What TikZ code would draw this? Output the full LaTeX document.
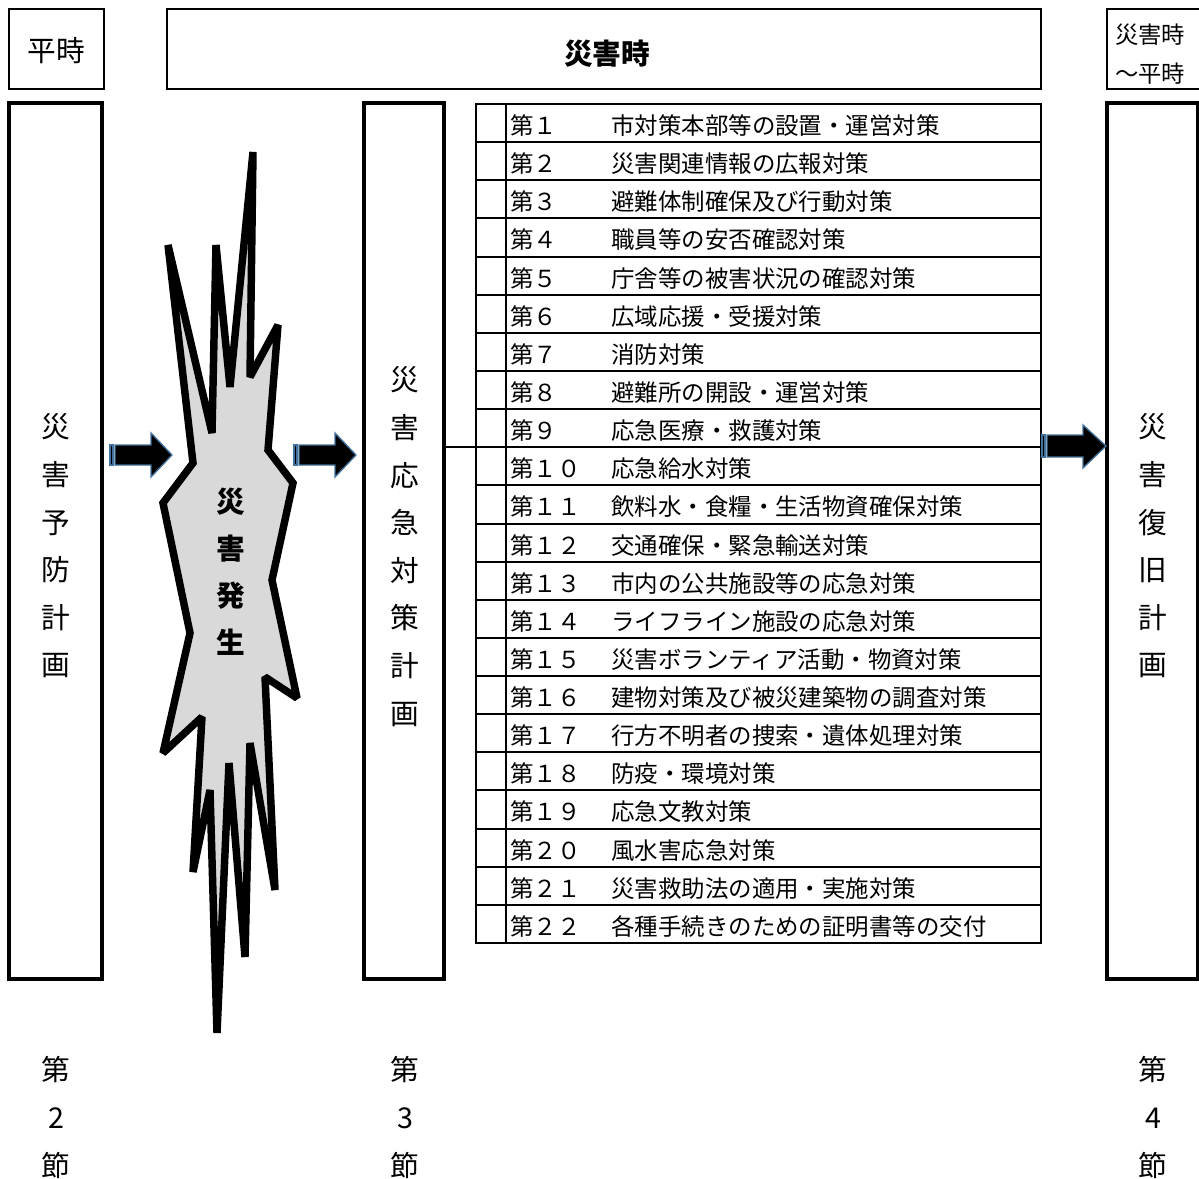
\documentclass[tikz,border=0pt]{standalone}
\usepackage{fontspec}
\setmainfont{Noto Sans CJK JP}
\definecolor{arrowblue}{HTML}{41719C}
\definecolor{boomgray}{HTML}{D9D9D9}
\begin{document}
\begin{tikzpicture}[x=0.75pt,y=-0.75pt,
  topbox/.style={draw,line width=2pt,inner sep=0},
  tallbox/.style={draw,line width=3pt,inner sep=0},
  vtext/.style={align=center,inner sep=0,font=\fontsize{21.5}{35.7}\selectfont},
  rowtxt/.style={anchor=west,inner sep=0,font=\fontsize{17.6}{20}\selectfont},
  barrow/.style={fill=black,draw=arrowblue,line width=1pt,line join=miter}]
\useasboundingbox (0,0) rectangle (1199,1178);

% top boxes
\node[topbox,minimum width=71.25pt,minimum height=60pt] (heiji) at (56.5,49) {};
\node[font=\fontsize{21.5}{24}\selectfont] (heijit) at (56.5,51) {平時};
\node[topbox,minimum width=655.5pt,minimum height=60pt] (saigaiji) at (604,49) {};
\node[font=\fontsize{21.5}{24}\selectfont\bfseries] (saigaijit) at (607,54) {災害時};
\node[topbox,minimum width=81pt,minimum height=60pt] (tr) at (1161,49) {};
\node[anchor=west,align=left,inner sep=0,font=\fontsize{17.5}{29.25}\selectfont] (trt) at (1115,54.5) {災害時\\〜平時};

% tall boxes
\node[tallbox,minimum width=69.75pt,minimum height=657pt] (left) at (55.5,541) {};
\node[vtext] (leftt) at (56,546) {災\\害\\予\\防\\計\\画};
\node[tallbox,minimum width=60pt,minimum height=657pt] (mid) at (404,541) {};
\node[vtext] (midt) at (405,546.5) {災\\害\\応\\急\\対\\策\\計\\画};
\node[tallbox,minimum width=68.25pt,minimum height=657pt] (right) at (1152.5,541) {};
\node[vtext] (rightt) at (1153,546) {災\\害\\復\\旧\\計\\画};

% section labels
\node[vtext] (s2) at (56,1117.5) {第\\2\\節};
\node[vtext] (s3) at (405,1117.5) {第\\3\\節};
\node[vtext] (s4) at (1153,1117.5) {第\\4\\節};

% table
\foreach \k in {1,...,21}
  \draw[line width=1.5pt] (476,{104+\k*38.136}) -- (1041,{104+\k*38.136});
\draw[line width=2pt] (506,104) -- (506,943);
\node[draw,line width=2pt,inner sep=0,minimum width=423.75pt,minimum height=629.25pt] (tbl) at (758.5,523.5) {};
\foreach \n/\t [count=\i] in {１/市対策本部等の設置・運営対策,
  ２/災害関連情報の広報対策,
  ３/避難体制確保及び行動対策,
  ４/職員等の安否確認対策,
  ５/庁舎等の被害状況の確認対策,
  ６/広域応援・受援対策,
  ７/消防対策,
  ８/避難所の開設・運営対策,
  ９/応急医療・救護対策,
  １０/応急給水対策,
  １１/飲料水・食糧・生活物資確保対策,
  １２/交通確保・緊急輸送対策,
  １３/市内の公共施設等の応急対策,
  １４/ライフライン施設の応急対策,
  １５/災害ボランティア活動・物資対策,
  １６/建物対策及び被災建築物の調査対策,
  １７/行方不明者の捜索・遺体処理対策,
  １８/防疫・環境対策,
  １９/応急文教対策,
  ２０/風水害応急対策,
  ２１/災害救助法の適用・実施対策,
  ２２/各種手続きのための証明書等の交付}
  \node[rowtxt] (row\i) at (510,{104+(\i-0.5)*38.136+2.5}) {\makebox[75.75pt][l]{第\n}\t};

% connector from middle box to table
\coordinate (j) at (460,447);
\draw[line width=1.5pt] (mid.east |- j) -- (tbl.west |- j);

% explosion
\draw[fill=boomgray,line width=5.6pt,line join=miter,miter limit=2]
  (163,503) -- (193,463) -- (168,245) -- (212,433) -- (216,245) -- (230,387)
  -- (253,152) -- (250,377) -- (278,325) -- (268,450) -- (293,483)
  -- (272,580) -- (297,698) -- (265,677) -- (275,890) -- (250,743)
  -- (245,957) -- (229,763) -- (217,1033) -- (210,790) -- (193,872)
  -- (202,717) -- (163,753) -- (190,633) -- cycle;
\node[vtext,font=\fontsize{21.5}{35.25}\selectfont\bfseries] (boomt) at (231,572) {災\\害\\発\\生};

% block arrows
\draw[barrow] (110,445) rectangle (113,465);
\draw[barrow] (115,445) -- (151,445) -- (151,433) -- (172,455) -- (151,477) -- (151,465) -- (115,465) -- cycle;
\draw[barrow] (294,445) rectangle (297,465);
\draw[barrow] (299,445) -- (335,445) -- (335,433) -- (356,455) -- (335,477) -- (335,465) -- (299,465) -- cycle;
\draw[barrow] (1042,435) rectangle (1045,457);
\draw[barrow] (1047,435) -- (1083,435) -- (1083,425) -- (1106,446) -- (1083,468) -- (1083,457) -- (1047,457) -- cycle;
\end{tikzpicture}
\end{document}
